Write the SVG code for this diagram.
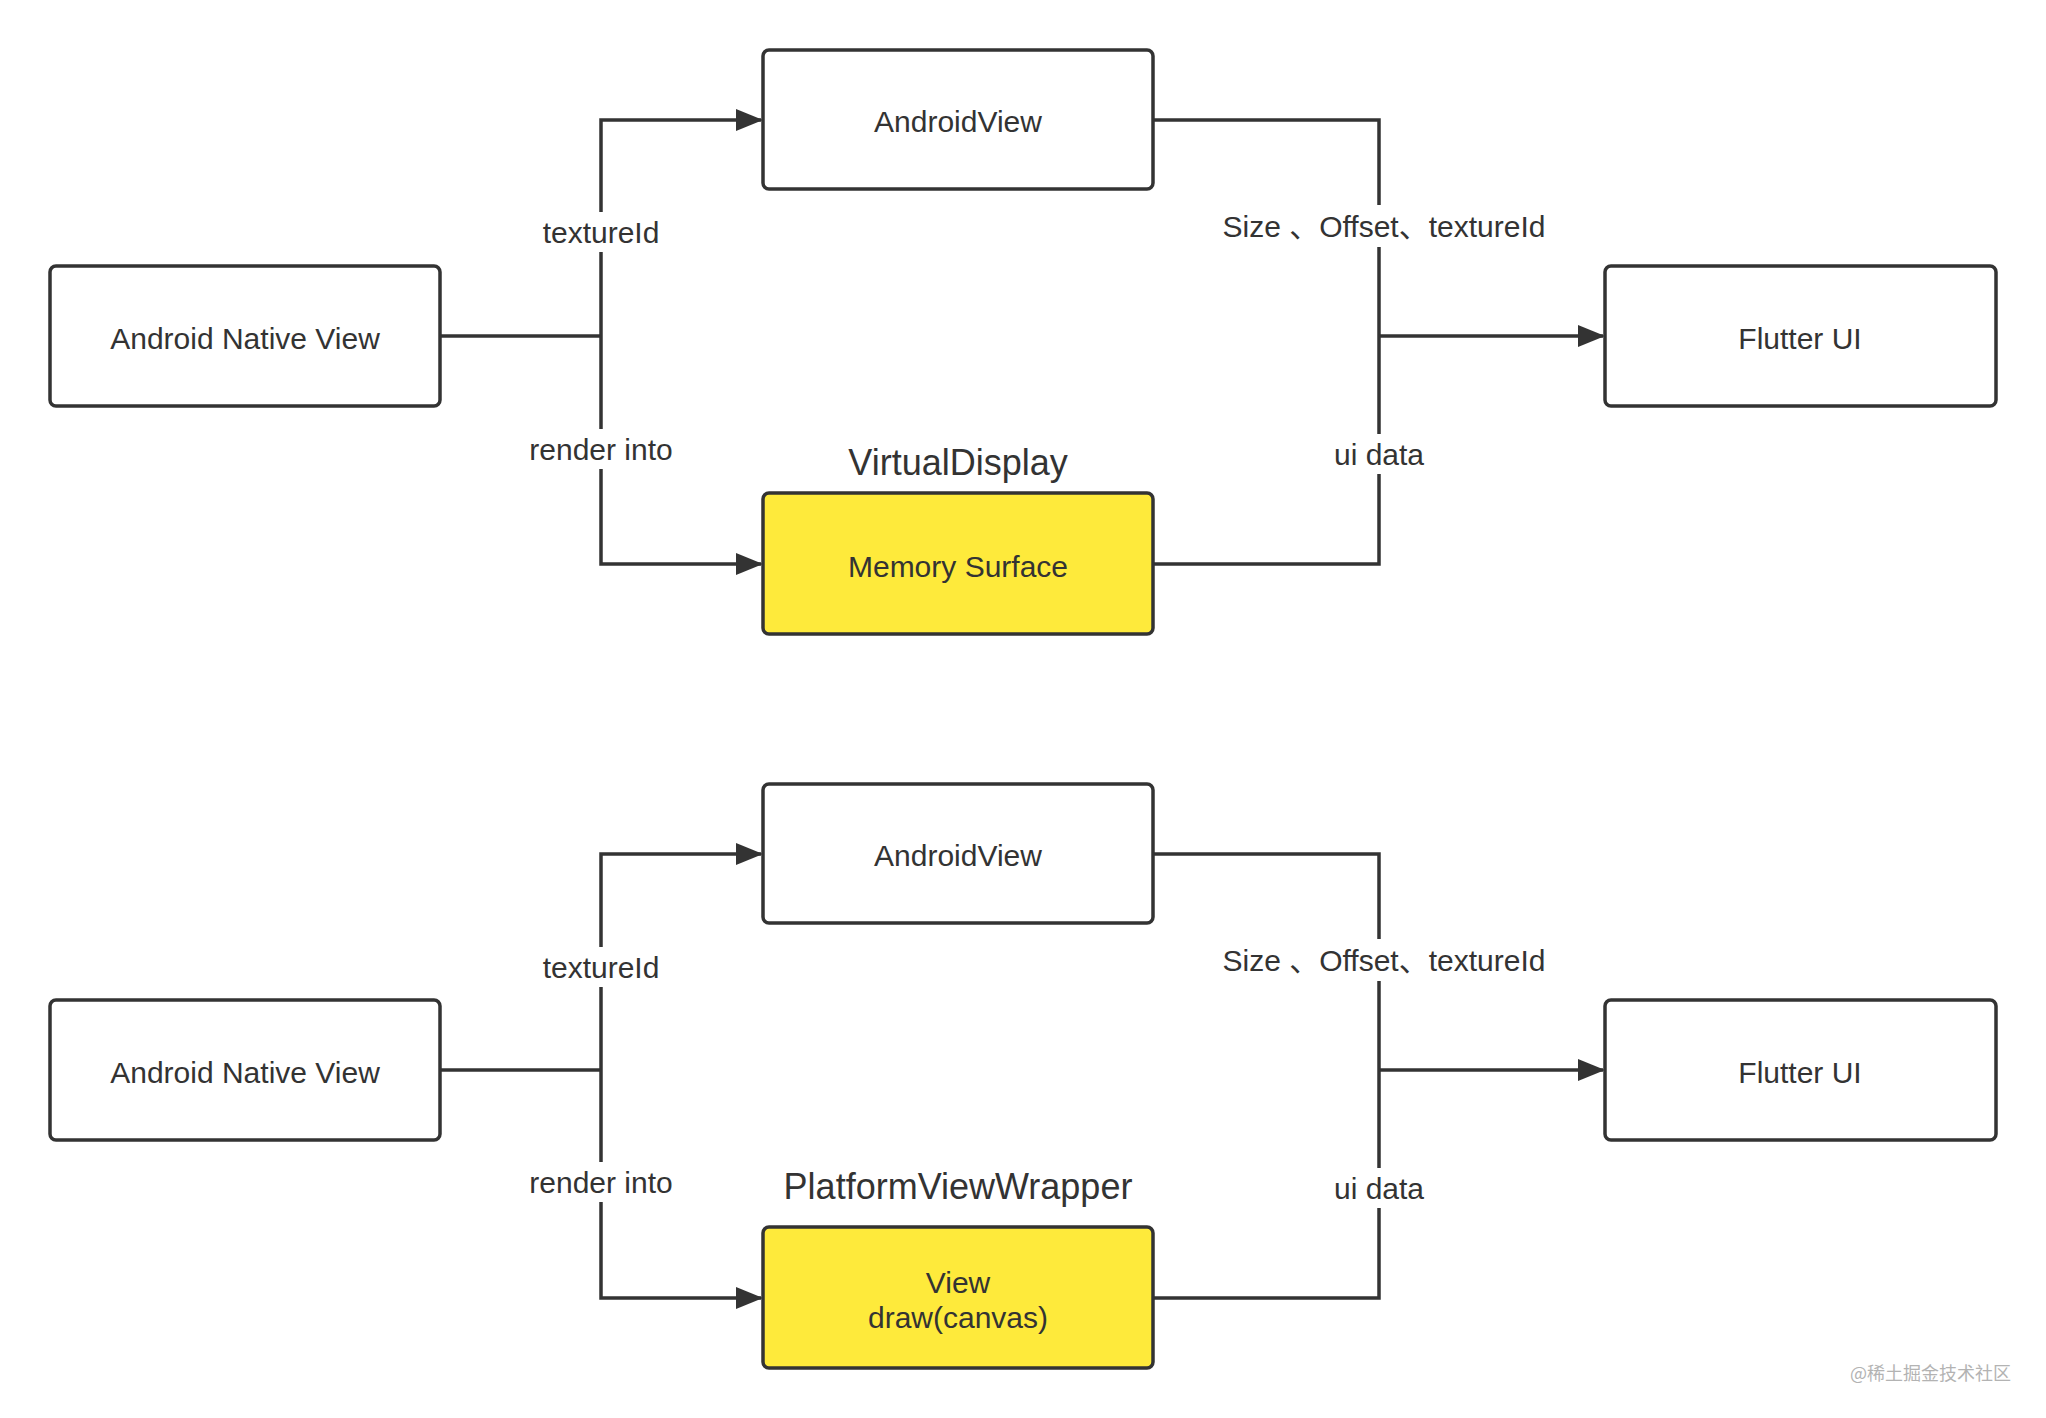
<svg xmlns="http://www.w3.org/2000/svg" width="2046" height="1418" viewBox="0 0 2046 1418">
<style>
  .box { fill: #ffffff; stroke: #333333; stroke-width: 3.5; }
  .hl { fill: #FEEA3B; stroke: #333333; stroke-width: 3.5; }
  .t { font-family: "Liberation Sans", "Noto Sans CJK SC", sans-serif; font-size: 30px; fill: #333333; text-anchor: middle; dominant-baseline: central; }
  .title { font-family: "Liberation Sans", "Noto Sans CJK SC", sans-serif; font-size: 36px; fill: #333333; text-anchor: middle; dominant-baseline: central; }
  .line { fill: none; stroke: #333333; stroke-width: 3.5; }
  .lblbg { fill: #ffffff; }
  .wm { font-family: "Noto Sans CJK SC", "Liberation Sans", sans-serif; font-size: 18px; fill: #b3b3b3; text-anchor: end; }
</style>
<defs>
  <marker id="arr" markerUnits="userSpaceOnUse" markerWidth="30" markerHeight="24" refX="25" refY="11" orient="auto">
    <path d="M0,0 L27,11 L0,22 z" fill="#333333"/>
  </marker>
</defs>
<rect width="2046" height="1418" fill="#ffffff"/>

<g id="connectors">
  <!-- top section -->
  <path class="line" d="M440,336 H601"/>
  <path class="line" d="M601,336 V120 H761" marker-end="url(#arr)"/>
  <path class="line" d="M601,336 V564 H761" marker-end="url(#arr)"/>
  <path class="line" d="M1153,120 H1379 V564 H1153"/>
  <path class="line" d="M1379,336 H1603" marker-end="url(#arr)"/>
  <!-- bottom section -->
  <path class="line" d="M440,1070 H601"/>
  <path class="line" d="M601,1070 V854 H761" marker-end="url(#arr)"/>
  <path class="line" d="M601,1070 V1298 H761" marker-end="url(#arr)"/>
  <path class="line" d="M1153,854 H1379 V1298 H1153"/>
  <path class="line" d="M1379,1070 H1603" marker-end="url(#arr)"/>

  <!-- labels top -->
  <rect class="lblbg" x="540" y="212" width="122" height="40"/>
  <text class="t" x="601" y="232">textureId</text>
  <rect class="lblbg" x="524" y="429" width="154" height="40"/>
  <text class="t" x="601" y="449">render into</text>
  <rect class="lblbg" x="1220" y="205" width="328" height="42"/>
  <text class="t" x="1384" y="226">Size 、Offset、textureId</text>
  <rect class="lblbg" x="1330" y="434" width="98" height="40"/>
  <text class="t" x="1379" y="454">ui data</text>

  <!-- labels bottom -->
  <rect class="lblbg" x="540" y="947" width="122" height="40"/>
  <text class="t" x="601" y="967">textureId</text>
  <rect class="lblbg" x="524" y="1162" width="154" height="40"/>
  <text class="t" x="601" y="1182">render into</text>
  <rect class="lblbg" x="1220" y="939" width="328" height="42"/>
  <text class="t" x="1384" y="960">Size 、Offset、textureId</text>
  <rect class="lblbg" x="1330" y="1168" width="98" height="40"/>
  <text class="t" x="1379" y="1188">ui data</text>
</g>

<!-- top section nodes -->
<g id="native-view-1">
  <rect class="box" x="50" y="266" width="390" height="140" rx="6"/>
  <text class="t" x="245" y="338">Android Native View</text>
</g>
<g id="android-view-1">
  <rect class="box" x="763" y="50" width="390" height="139" rx="6"/>
  <text class="t" x="958" y="121">AndroidView</text>
</g>
<g id="virtual-display">
  <text class="title" x="958" y="462">VirtualDisplay</text>
  <rect class="hl" x="763" y="493" width="390" height="141" rx="6"/>
  <text class="t" x="958" y="566">Memory Surface</text>
</g>
<g id="flutter-ui-1">
  <rect class="box" x="1605" y="266" width="391" height="140" rx="6"/>
  <text class="t" x="1800" y="338">Flutter UI</text>
</g>

<!-- bottom section nodes -->
<g id="native-view-2">
  <rect class="box" x="50" y="1000" width="390" height="140" rx="6"/>
  <text class="t" x="245" y="1072">Android Native View</text>
</g>
<g id="android-view-2">
  <rect class="box" x="763" y="784" width="390" height="139" rx="6"/>
  <text class="t" x="958" y="855">AndroidView</text>
</g>
<g id="platform-view-wrapper">
  <text class="title" x="958" y="1186">PlatformViewWrapper</text>
  <rect class="hl" x="763" y="1227" width="390" height="141" rx="6"/>
  <text class="t" x="958" y="1282">View</text>
  <text class="t" x="958" y="1317">draw(canvas)</text>
</g>
<g id="flutter-ui-2">
  <rect class="box" x="1605" y="1000" width="391" height="140" rx="6"/>
  <text class="t" x="1800" y="1072">Flutter UI</text>
</g>

<text class="wm" x="2011" y="1380">@稀土掘金技术社区</text>
</svg>
